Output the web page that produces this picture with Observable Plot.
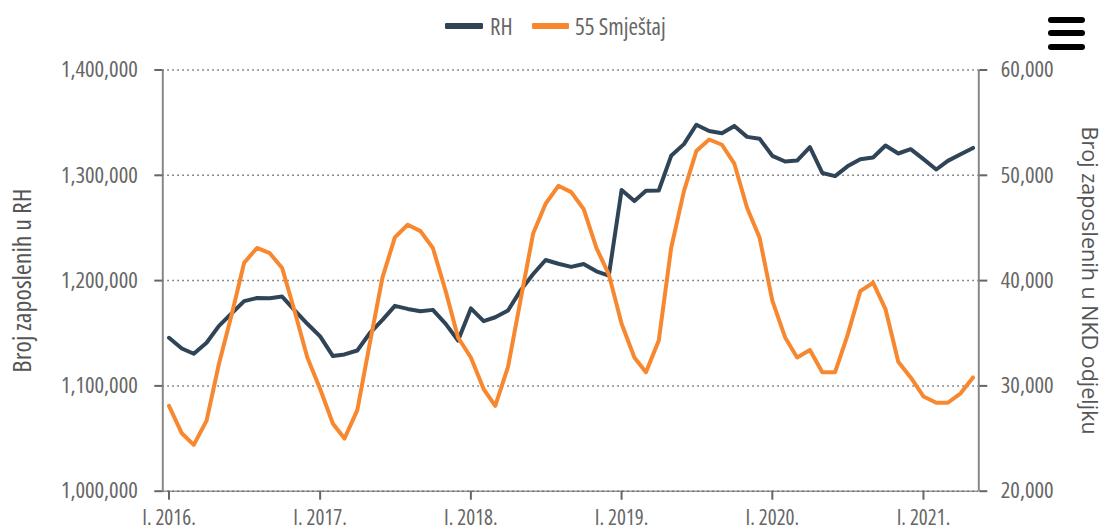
<!DOCTYPE html>
<html><head><meta charset="utf-8">
<script src="https://cdn.jsdelivr.net/npm/d3@7"></script>
<script src="https://cdn.jsdelivr.net/npm/@observablehq/plot@0.6"></script>
<style>
body{margin:0;background:#fff;font-family:"Open Sans","DejaVu Sans Condensed",sans-serif;font-stretch:75%;}
#wrap{position:relative;width:1106px;height:532px;overflow:hidden;}
#legend{position:relative;height:50px;width:1106px;}
.sw{position:absolute;top:23px;height:6px;border-radius:1px;}
.lt{position:absolute;top:11px;font-size:23px;color:#666;line-height:30px;font-stretch:80%;}
.bar{position:absolute;left:1048px;width:37px;height:6px;background:#000;border-radius:3px;}
#chart svg{display:block;}
#chart svg text{font-stretch:75%;}
</style></head><body>
<div id="wrap">
  <div id="legend">
    <span class="sw" style="left:445px;width:38px;background:#2f4456"></span>
    <span class="lt" style="left:490px">RH</span>
    <span class="sw" style="left:532px;width:37px;background:#f7882f"></span>
    <span class="lt" style="left:575px">55 Smještaj</span>
  </div>
  <div class="bar" style="top:17px"></div>
  <div class="bar" style="top:30px"></div>
  <div class="bar" style="top:44px"></div>
  <div id="chart"></div>
</div>
<script>
// monthly data, January 2016 – May 2021
const firstMonth = "2016-01-01";
const lastMonth = "2021-05-01";
const seriesNames = ["RH", "55 Smještaj"];
const rh = [
  1145700, 1135500, 1130500, 1141000, 1157000, 1169000, 1180500, 1183500, 1183300, 1184800, 1171500, 1159000,
  1147000, 1128300, 1129900, 1133600, 1150000, 1162700, 1176000, 1173100, 1170900, 1172200, 1158900, 1143100,
  1173600, 1161500, 1165200, 1171600, 1190500, 1206300, 1219600, 1216000, 1213000, 1215800, 1208800, 1204700,
  1286000, 1275500, 1285300, 1285600, 1318500, 1329600, 1348000, 1342000, 1340000, 1346900, 1336500, 1334800,
  1318500, 1313100, 1314000, 1326700, 1302200, 1299200, 1308500, 1315300, 1316900, 1328300, 1320700, 1324800,
  1315300, 1305500, 1313700, 1320000, 1326000
];
const smjestaj = [
  28100, 25500, 24400, 26700, 32100, 36800, 41700, 43100, 42600, 41200, 37000, 32700,
  29700, 26400, 25000, 27700, 34000, 40300, 44100, 45300, 44700, 43100, 39000, 34600,
  32700, 29700, 28100, 31800, 38100, 44500, 47300, 49000, 48400, 46800, 43100, 40600,
  35900, 32700, 31300, 34300, 43100, 48500, 52300, 53400, 52900, 51100, 46900, 44100,
  38100, 34600, 32700, 33400, 31300, 31300, 34800, 39000, 39800, 37300, 32300, 30800,
  29000, 28400, 28400, 29300, 30800
];
const leftTicks = [1000000, 1100000, 1200000, 1300000, 1400000];
const rightTicks = [20000, 30000, 40000, 50000, 60000];
const yearTicks = ["2016-01-01", "2017-01-01", "2018-01-01", "2019-01-01", "2020-01-01", "2021-01-01"];
const leftTitle = "Broj zaposlenih u RH";
const rightTitle = "Broj zaposlenih u NKD odjeljku";

const dates = d3.utcMonth.range(new Date(firstMonth), d3.utcMonth.offset(new Date(lastMonth), 1));
const rows = dates.map((d, i) => ({date: d, rh: rh[i], s: smjestaj[i]}));
const toLeft = v => leftTicks[0] + (v - rightTicks[0]) * (leftTicks[4] - leftTicks[0]) / (rightTicks[4] - rightTicks[0]);
const xmin = d3.utcDay.offset(new Date(firstMonth), -15);
const xmax = d3.utcDay.offset(new Date(lastMonth), 14);
const fmt = d3.format(",");
const font = '"Open Sans","DejaVu Sans Condensed",sans-serif';

const chart = Plot.plot({
  width: 1106, height: 482,
  marginTop: 19.5, marginBottom: 41.3, marginLeft: 162.3, marginRight: 127.7,
  style: {fontFamily: font, fontSize: "21px", color: "#555", background: "#fff", overflow: "visible"},
  x: {type: "utc", domain: [xmin, xmax]},
  y: {domain: [leftTicks[0], leftTicks[4]]},
  marks: [
    Plot.ruleY([leftTicks[0]], {stroke: "#999", strokeWidth: 1.5}),
    Plot.gridY(leftTicks, {stroke: "#666", strokeOpacity: 1, strokeWidth: 1.5, strokeDasharray: "1.5,3.5"}),
    Plot.ruleX([xmin], {stroke: "#888", strokeWidth: 2}),
    Plot.ruleX([xmax], {stroke: "#888", strokeWidth: 2}),
    Plot.axisY(leftTicks, {anchor: "left", tickSize: 8, tickPadding: 17, tickFormat: fmt, label: null, color: "#666", strokeWidth: 2, fontSize: 22.5}),
    Plot.axisY(rightTicks, {anchor: "right", y: toLeft, tickSize: 8, tickPadding: 14, tickFormat: fmt, label: null, color: "#666", strokeWidth: 2, fontSize: 22.5}),
    Plot.axisX(yearTicks.map(s => new Date(s)), {anchor: "bottom", tickSize: 9, tickPadding: 10, tickFormat: d => `I. ${d.getUTCFullYear()}.`, label: null, color: "#666", strokeWidth: 2}),
    Plot.lineY(rows, {x: "date", y: "rh", stroke: "#2f4456", strokeWidth: 4, strokeLinejoin: "round"}),
    Plot.lineY(rows, {x: "date", y: d => toLeft(d.s), stroke: "#f7882f", strokeWidth: 4, strokeLinejoin: "round"}),
    Plot.text([leftTitle], {text: d => d, frameAnchor: "left", textAnchor: "middle", dx: -140, rotate: -90, fontSize: 26, fill: "#555"}),
    Plot.text([rightTitle], {text: d => d, frameAnchor: "right", textAnchor: "middle", dx: 110, rotate: 90, fontSize: 21.5, fill: "#555"})
  ]
});
chart.querySelectorAll("text").forEach(t => {
  if (t.textContent === rightTitle) t.style.fontStretch = "100%";
});
document.getElementById("chart").appendChild(chart);
</script>
</body></html>
